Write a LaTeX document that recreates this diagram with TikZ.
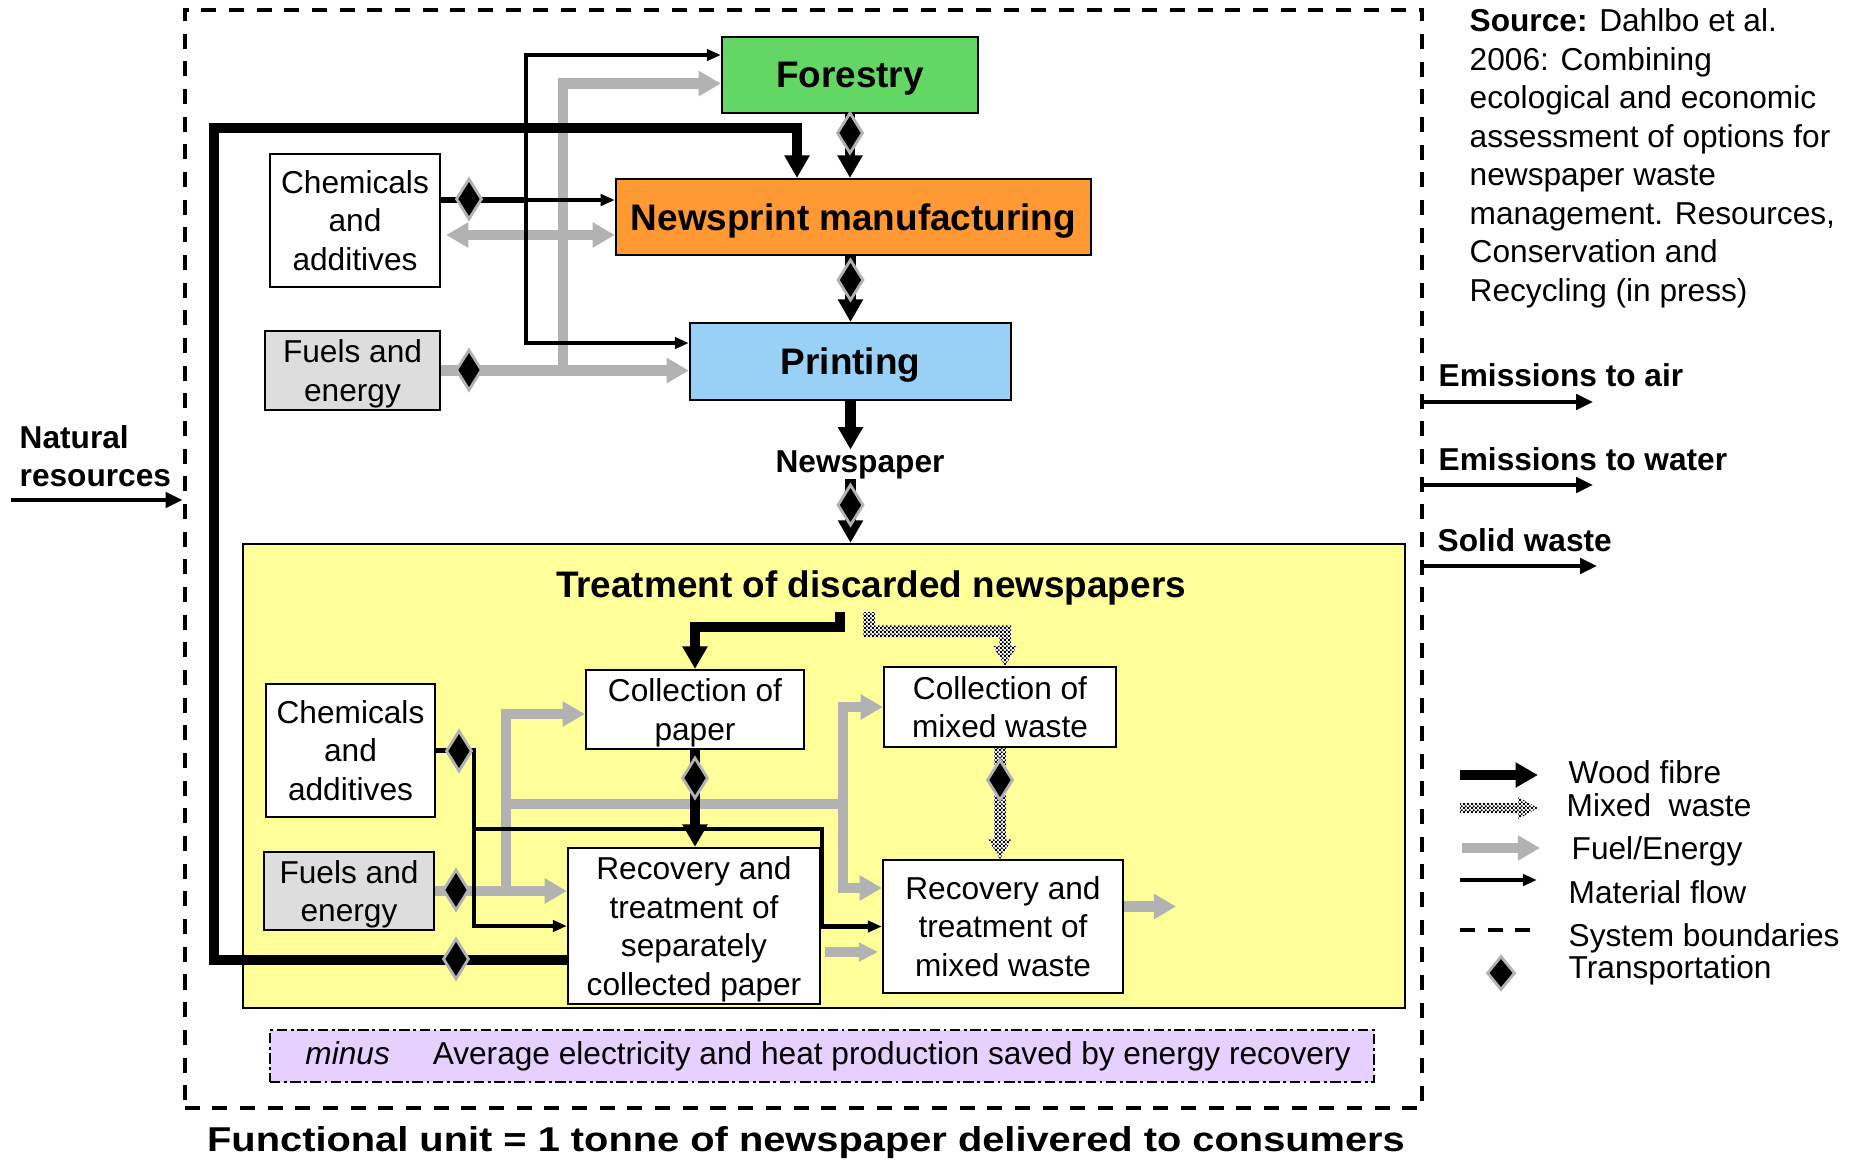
\documentclass[tikz,border=0pt]{standalone}
\usepackage{fontspec}
\usepackage{graphicx}
\setmainfont{Liberation Sans}
\usetikzlibrary{arrows.meta,shapes.geometric,calc,patterns}
\pgfdeclarepatternformonly{finecheck}{\pgfqpoint{0pt}{0pt}}{\pgfqpoint{1.2pt}{1.2pt}}{\pgfqpoint{1.2pt}{1.2pt}}{%
  \pgfpathrectangle{\pgfqpoint{0pt}{0pt}}{\pgfqpoint{0.6pt}{0.6pt}}%
  \pgfpathrectangle{\pgfqpoint{0.6pt}{0.6pt}}{\pgfqpoint{0.6pt}{0.6pt}}%
  \pgfusepath{fill}}
\definecolor{forestgreen}{HTML}{63D663}
\definecolor{newsorange}{HTML}{FF9933}
\definecolor{printblue}{HTML}{99D0F5}
\definecolor{fuelfill}{HTML}{DDDDDD}
\definecolor{treatyellow}{HTML}{FFFF99}
\definecolor{minuslav}{HTML}{E6D0FF}
\definecolor{fuelgray}{HTML}{B2B2B2}
\newcommand\regfont{\fontsize{9}{10.95}\selectfont}
\newcommand\hdfont{\fontsize{10.5}{12.6}\selectfont\bfseries}
\newcommand\lblfont{\fontsize{9}{10.8}\selectfont\bfseries}
\newcommand\fufont{\fontsize{9.8}{11.8}\selectfont\bfseries}
\newcommand\mixdown[2]{\path[mixw] ($(#1)+(-6,0)$) -- ($(#2)+(-6,-20)$) -- ($(#2)+(-12,-20)$) -- (#2) -- ($(#2)+(12,-20)$) -- ($(#2)+(6,-20)$) -- ($(#1)+(6,0)$) -- cycle;}
\newcommand\mixright[2]{\path[mixw] ($(#1)+(0,-5)$) -- ($(#2)+(-20,-5)$) -- ($(#2)+(-20,-11)$) -- (#2) -- ($(#2)+(-20,11)$) -- ($(#2)+(-20,5)$) -- ($(#1)+(0,5)$) -- cycle;}
\tikzset{
  box/.style={draw=black, line width=0.6pt, inner sep=1pt, align=center, font=\regfont, text depth=0pt},
  wood/.style={draw=black, line width=3pt, -{Triangle[length=6.4pt,width=6.8pt]}},
  fuel/.style={draw=fuelgray, line width=3.1pt},
  fuelarr/.style={fuel, -{Triangle[length=6.3pt,width=6.8pt]}},
  mat/.style={draw=black, line width=1.2pt},
  matarr/.style={mat, -{Triangle[length=4pt,width=3.2pt]}},
  emis/.style={draw=black, line width=1.4pt, -{Triangle[length=4.8pt,width=4.3pt]}},
  transp/.style={diamond, fill=black, draw=black!30, line width=0.8pt, inner sep=0pt, minimum width=0.26cm, minimum height=0.41cm},
  mixw/.style={preaction={fill=white}, pattern=finecheck},
  sysdash/.style={line width=1.2pt, dash pattern=on 4.27pt off 3.6pt},
  lbl/.style={inner sep=0pt, anchor=base west}
}
\begin{document}
\begin{tikzpicture}[x=0.01cm, y=-0.01cm]
\fill[white] (0,0) rectangle (1856,1162);
\useasboundingbox (0,0) rectangle (1856,1162);

% system boundary
\node[draw, sysdash, minimum width=12.37cm, minimum height=10.98cm, inner sep=0pt] (sysb) at (803.5,559) {};

% treatment area
\node[draw, line width=0.6pt, fill=treatyellow, minimum width=11.62cm, minimum height=4.64cm, inner sep=0pt] (treat) at (824,776) {};

% boxes
\node[box, fill=forestgreen, minimum width=2.56cm, minimum height=0.76cm, font=\hdfont] (forestry) at (850,75) {Forestry};
\node[box, fill=newsorange, minimum width=4.75cm, minimum height=0.76cm, font=\hdfont] (news) at (853.5,217) {Newsprint manufacturing};
\node[box, fill=printblue, minimum width=3.21cm, minimum height=0.77cm, font=\hdfont] (printing) at (850.5,361.5) {Printing};
\node[box, fill=white, minimum width=1.70cm, minimum height=1.33cm] (chemT) at (355,220.5) {Chemicals\\and\\additives};
\node[box, fill=fuelfill, minimum width=1.75cm, minimum height=0.79cm] (fuelsT) at (352.5,370.5) {Fuels and\\energy};
\node[box, fill=white, minimum width=1.69cm, minimum height=1.33cm] (chemL) at (350.5,750.5) {Chemicals\\and\\additives};
\node[box, fill=fuelfill, minimum width=1.70cm, minimum height=0.78cm] (fuelsL) at (349,891) {Fuels and\\energy};
\node[box, fill=white, minimum width=2.18cm, minimum height=0.79cm] (collP) at (695,709.5) {Collection of\\paper};
\node[box, fill=white, minimum width=2.32cm, minimum height=0.80cm] (collM) at (1000,707) {Collection of\\mixed waste};
\node[box, fill=white, minimum width=2.52cm, minimum height=1.56cm] (recS) at (694,926) {Recovery and\\treatment of\\separately\\collected paper};
\node[box, fill=white, minimum width=2.40cm, minimum height=1.33cm] (recM) at (1003,926.5) {Recovery and\\treatment of\\mixed waste};

\node[font=\lblfont, anchor=base, inner sep=0pt] (newspaper) at (860,472) {Newspaper};
\node[font=\hdfont, anchor=base, inner sep=0pt] (title) at (871,597) {Treatment of discarded newspapers};

% ---- fuel / energy (grey) ----
\draw[fuelarr] (fuelsT.east) -- (fuelsT.east -| printing.west);
\coordinate (g1) at (563,370.5);
\draw[fuelarr] (g1) |- ($(forestry.west)+(0,8.5)$);
\coordinate (c2) at ($(chemT.east)+(5,14.5)$);
\draw[fuel, {Triangle[length=6.3pt,width=6.8pt]}-{Triangle[length=6.3pt,width=6.8pt]}] (c2) -- (c2 -| news.west);

\draw[fuelarr] (fuelsL.east) -- (fuelsL.east -| recS.west);
\coordinate (gx1) at (506,804);
\coordinate (gx2) at (843,804);
\draw[fuelarr] (fuelsL.east -| gx1) |- ($(collP.west)+(0,4.5)$);
\draw[fuel] (gx1) -- (gx2);
\draw[fuelarr] (gx2) |- (collM.west);
\draw[fuelarr] (gx2) |- ($(recM.west)+(0,-38.5)$);
\coordinate (o1a) at ($(recS.east)+(4,26)$);
\coordinate (o1b) at ($(recS.east)+(57,26)$);
\draw[fuel, line width=2.6pt, -{Triangle[length=5.4pt,width=5pt]}] (o1a) -- (o1b);
\coordinate (o2b) at ($(recM.east)+(52,-20)$);
\draw[fuelarr] ($(recM.east)+(0,-20)$) -- (o2b);

% ---- mixed waste ----
\coordinate (mxS) at (869,612);
\coordinate (mxE) at ($(collM.north)+(5,0)$);
\coordinate (mxC) at ($(mxE |- mxS)+(0,19)$);
\path[mixw] ($(mxS)+(-6,0)$) -- ($(mxS)+(6,0)$) -- ($(mxS |- mxC)+(6,-6)$) -- ($(mxC)+(6,-6)$) -- ($(mxE)+(6,-20)$) -- ($(mxE)+(12,-20)$) -- (mxE) -- ($(mxE)+(-12,-20)$) -- ($(mxE)+(-6,-20)$) -- ($(mxC)+(-6,6)$) -- ($(mxS |- mxC)+(-6,6)$) -- cycle;
\coordinate (mxB) at (collM.south |- recM.north);
\mixdown{collM.south}{mxB}

% ---- material flow (thin black) ----
\coordinate (c1) at ($(chemT.east)+(0,-20.5)$);
\coordinate (jc) at (526,200);
\draw[mat, line width=1.7pt] (c1) -- (jc);
\draw[matarr] (jc) -- (jc -| news.west);
\draw[matarr] (jc) |- ($(forestry.west)+(0,-20)$);
\draw[matarr] (jc) |- ($(printing.west)+(0,-18.5)$);
\draw[matarr] (chemL.east) -| ($(recS.west)+(-93,0)$) -- (recS.west);
\coordinate (bj) at (475,829);
\draw[matarr] (bj) -| ($(recM.west)+(-60,0)$) -- (recM.west);

% ---- wood fibre (thick black) ----
\coordinate (wfL) at (214,128);
\draw[wood] ($(recS.west)+(0,34)$) -| (wfL) -| ($(news.north)+(-56.5,0)$);
\draw[wood] (forestry.south) -- (forestry.south |- news.north);
\draw[wood] (printing.north |- news.south) -- (printing.north);
\draw[wood] (printing.south) -- (printing.south |- newspaper.north);
\draw[wood] (printing.south |- newspaper.south) -- (printing.south |- treat.north);
\coordinate (wfT) at (840,612);
\draw[wood] (wfT) |- ($(collP.north)+(0,-42)$) -- (collP.north);
\draw[wood] (collP.south) -- (collP.south |- recS.north);

% ---- transportation ----
\node[transp] (d1) at (469,199) {};
\node[transp] (d2) at (469,370) {};
\node[transp] (d3) at (850,133) {};
\node[transp] (d4) at (850.5,280) {};
\node[transp] (d5) at (850.5,505) {};
\node[transp] (d6) at (459,751) {};
\node[transp] (d7) at (456,890) {};
\node[transp] (d8) at (456,959) {};
\node[transp] (d9) at (695,778) {};
\node[transp] (d10) at (1000,780) {};

% ---- minus box and functional unit ----
\node[draw, line width=0.6pt, dash pattern=on 3pt off 1pt on 0.8pt off 1pt, fill=minuslav, minimum width=11.04cm, minimum height=0.52cm, font=\regfont, inner sep=0pt] (minus) at (822,1056) {\hspace*{3.4pt}\textit{minus}\hspace{12.2pt}Average electricity and heat production saved by energy recovery};
\node[font=\fufont, anchor=base, inner sep=0pt] (funit) at (806,1151) {\scalebox{1.155}[1]{Functional unit = 1 tonne of newspaper delivered to consumers}};

% ---- outside ----
\node[font=\fontsize{9}{10.8}\selectfont\bfseries, align=left, anchor=north west, inner sep=0pt] (natres) at (19,425) {Natural\\resources};
\coordinate (nrS) at (11,500);
\draw[emis] (nrS) -- (nrS -| sysb.west);

\node[font=\regfont, align=left, anchor=north west, inner sep=0pt] (src) at (1469,8) {\textbf{Source:} Dahlbo et al.\\2006: Combining\\ecological and economic\\assessment of options for\\newspaper waste\\management. Resources,\\Conservation and\\Recycling (in press)};

\node[font=\lblfont, lbl] (emair) at (1438,386.5) {Emissions to air};
\node[font=\lblfont, lbl] (emwater) at (1438,470) {Emissions to water};
\node[font=\lblfont, lbl] (solid) at (1437,551) {Solid waste};
\coordinate (eA) at (1593,402);
\coordinate (eW) at (1593,485);
\coordinate (eS) at (1597,566);
\draw[emis] (sysb.east |- eA) -- (eA);
\draw[emis] (sysb.east |- eW) -- (eW);
\draw[emis] (sysb.east |- eS) -- (eS);

% ---- legend ----
\coordinate (lw1) at (1460,775); \coordinate (lw2) at (1538,775);
\draw[wood] (lw1) -- (lw2);
\coordinate (lm1) at (1460,808); \coordinate (lm2) at (1538,808);
\mixright{lm1}{lm2}
\coordinate (lf1) at (1462,848); \coordinate (lf2) at (1540,848);
\draw[fuelarr] (lf1) -- (lf2);
\coordinate (la1) at (1460,880); \coordinate (la2) at (1537,880);
\draw[matarr] (la1) -- (la2);
\coordinate (ls1) at (1460,930); \coordinate (ls2) at (1531,930);
\draw[sysdash] (ls1) -- (ls2);
\node[transp, minimum width=0.28cm, minimum height=0.34cm] (d11) at (1501,973) {};
\node[font=\regfont, lbl] (lgw) at (1568,783) {Wood fibre};
\node[font=\regfont, lbl] (lgm) at (1566,816) {Mixed\ \ waste};
\node[font=\regfont, lbl] (lgf) at (1571,859) {Fuel/Energy};
\node[font=\regfont, lbl] (lga) at (1568,903) {Material flow};
\node[font=\regfont, lbl] (lgs) at (1568,946) {System boundaries};
\node[font=\regfont, lbl] (lgt) at (1568,978) {Transportation};
\end{tikzpicture}
\end{document}
